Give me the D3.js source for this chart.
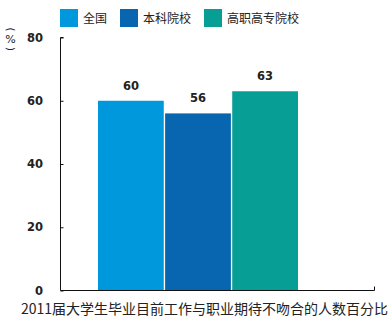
<!DOCTYPE html>
<html>
<head>
<meta charset="utf-8">
<script src="https://cdn.jsdelivr.net/npm/d3@7"></script>
<style>
  html, body { margin: 0; padding: 0; background: #fff; }
  svg { display: block; }
</style>
</head>
<body>
<svg id="chart" width="390" height="323"></svg>
<script>
// Share of 2011 graduates whose current job does not match career expectations
const categories = ["全国", "本科院校", "高职高专院校"];
const values = [60, 56, 63];
const colors = ["#0098DD", "#0866B0", "#079E95"];
const yTicks = [0, 20, 40, 60, 80];
const title = "2011届大学生毕业目前工作与职业期待不吻合的人数百分比";
const yUnit = ["(", "%", ")"];

const svg = d3.select("#chart");
const cjk = "'Noto Sans CJK SC', 'Noto Sans', sans-serif";
const num = "'DejaVu Sans', sans-serif";

const axisLeft = 60.5, axisRight = 374.5;
const y = d3.scaleLinear().domain([0, 80]).range([290.5, 37.5]);
const x = d3.scaleBand().domain(categories).range([98, 298]).paddingInner(0.02).paddingOuter(0);

// Bars
svg.append("g").selectAll("rect")
  .data(values)
  .join("rect")
  .attr("x", (d, i) => x(categories[i]))
  .attr("width", x.bandwidth())
  .attr("y", d => y(d))
  .attr("height", d => y(0) - y(d))
  .attr("fill", (d, i) => colors[i]);

// Value labels
svg.append("g").selectAll("text")
  .data(values)
  .join("text")
  .attr("x", (d, i) => x(categories[i]) + x.bandwidth() / 2)
  .attr("y", d => y(d) - 11)
  .attr("text-anchor", "middle")
  .attr("font-family", num)
  .attr("font-weight", "bold")
  .attr("font-size", 11.5)
  .attr("fill", "#222")
  .text(d => d);

// Y axis: ticks point inward
const yAxis = d3.axisRight(y).tickValues(yTicks).tickSize(3).tickFormat("");
const gy = svg.append("g").attr("transform", `translate(${axisLeft},0)`).call(yAxis);
gy.select(".domain").attr("d", `M3,${y(80)}H0V${y(0)}`).attr("stroke", "#111");
gy.selectAll(".tick line").attr("stroke", "#111");

// Y tick labels
svg.append("g").selectAll("text")
  .data(yTicks)
  .join("text")
  .attr("x", 43)
  .attr("y", d => y(d) + 4)
  .attr("text-anchor", "end")
  .attr("font-family", num)
  .attr("font-weight", "bold")
  .attr("font-size", 11.5)
  .attr("fill", "#222")
  .text(d => d);

// X baseline with closing tick at the right end
svg.append("path")
  .attr("d", `M${axisLeft},${y(0)}H${axisRight}V${y(0) - 4}`)
  .attr("fill", "none")
  .attr("stroke", "#111");

// Y unit, stacked vertically; the brackets are turned sideways
const unitY = [29.5, 39.5, 49];
svg.append("g").selectAll("text")
  .data(yUnit)
  .join("text")
  .attr("transform", (d, i) => `translate(10.5,${unitY[i]})` + (i === 1 ? "" : " rotate(90)"))
  .attr("text-anchor", "middle")
  .attr("dominant-baseline", "central")
  .attr("font-family", "'DejaVu Sans', sans-serif")
  .attr("font-size", (d, i) => i === 1 ? 11 : 10)
  .attr("fill", "#222")
  .text(d => d);

// Legend
const legendX = [60, 120, 204];
const lg = svg.append("g").selectAll("g")
  .data(categories)
  .join("g")
  .attr("transform", (d, i) => `translate(${legendX[i]},9)`);
lg.append("rect").attr("width", 18).attr("height", 18).attr("fill", (d, i) => colors[i]);
lg.append("text")
  .attr("x", 23)
  .attr("y", 13.5)
  .attr("font-family", cjk)
  .attr("font-size", 12)
  .attr("fill", "#222")
  .text(d => d);

// Bottom title
svg.append("text")
  .attr("x", 204.5)
  .attr("y", 314)
  .attr("text-anchor", "middle")
  .attr("font-family", cjk)
  .attr("font-size", 14)
  .attr("fill", "#222")
  .text(title);
</script>
</body>
</html>
